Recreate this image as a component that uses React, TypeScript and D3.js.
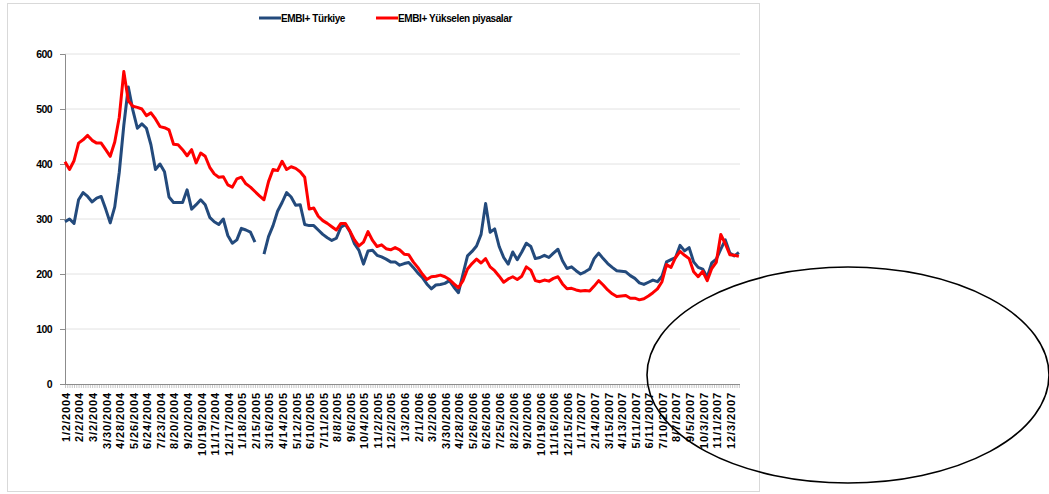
import React, { useEffect, useRef } from "react";
import * as d3 from "d3";

// x axis labels (one every ~21 business days)
const dateLabels = [
  "1/2/2004", "2/2/2004", "3/2/2004", "3/30/2004", "4/28/2004", "5/26/2004", "6/24/2004",
  "7/23/2004", "8/20/2004", "9/20/2004", "10/19/2004", "11/17/2004", "12/17/2004",
  "1/18/2005", "2/15/2005", "3/16/2005", "4/14/2005", "5/12/2005", "6/10/2005", "7/11/2005",
  "8/8/2005", "9/6/2005", "10/4/2005", "11/2/2005", "12/2/2005",
  "1/3/2006", "2/1/2006", "3/2/2006", "3/30/2006", "4/28/2006", "5/26/2006", "6/26/2006",
  "7/25/2006", "8/22/2006", "9/20/2006", "10/19/2006", "11/16/2006", "12/15/2006",
  "1/17/2007", "2/14/2007", "3/15/2007", "4/13/2007", "5/11/2007", "6/11/2007", "7/10/2007",
  "8/7/2007", "9/5/2007", "10/3/2007", "11/1/2007", "12/3/2007",
];

// spreads, three readings per label interval
const turkiye: (number | null)[] = [
  295, 300, 292, 335, 348, 341, 331, 338, 341, 318, 293, 322, 385, 470, 540, 498, 465, 473, 465, 435,
  390, 400, 386, 340, 330, 330, 330, 353, 318, 326, 335, 326, 303, 295, 290, 300, 270, 256, 262, 283,
  280, 276, 258, null, 236, 268, 288, 314, 330, 348, 340, 325, 326, 290, 288, 288, 280, 272, 266, 261,
  265, 285, 290, 277, 255, 243, 218, 242, 243, 234, 231, 227, 222, 222, 216, 219, 221, 212, 202, 194,
  182, 173, 180, 181, 183, 188, 176, 166, 200, 233, 241, 251, 272, 328, 276, 282, 250, 230, 218, 240,
  226, 240, 256, 250, 228, 230, 234, 230, 238, 245, 224, 210, 213, 206, 200, 204, 209, 228, 238, 228,
  219, 212, 206, 205, 204, 197, 192, 184, 181, 185, 189, 186, 196, 222, 226, 230, 252, 242, 248, 222,
  212, 209, 194, 220, 227, 245, 262, 238, 233, 239,
];

const yukselen: (number | null)[] = [
  404, 390, 406, 438, 444, 452, 443, 438, 438, 426, 414, 440, 485, 568, 515, 505, 503, 500, 488, 493,
  482, 468, 466, 462, 436, 435, 426, 415, 426, 402, 420, 414, 394, 382, 376, 377, 362, 358, 373, 376,
  364, 358, 350, 342, 335, 368, 390, 388, 405, 390, 395, 392, 386, 376, 318, 320, 305, 297, 292, 286,
  280, 292, 292, 278, 262, 251, 258, 277, 261, 250, 253, 246, 244, 248, 244, 236, 235, 222, 212, 200,
  190, 195, 196, 198, 195, 190, 182, 175, 188, 209, 219, 227, 220, 228, 213, 206, 196, 185, 191, 195,
  190, 196, 213, 207, 188, 186, 189, 187, 192, 195, 182, 173, 174, 171, 169, 170, 169, 178, 188, 180,
  171, 164, 159, 160, 161, 156, 156, 153, 155, 160, 166, 173, 186, 217, 212, 230, 241, 234, 228, 204,
  195, 205, 188, 210, 221, 272, 255, 235, 234, 232,
];

const yTicks = [0, 100, 200, 300, 400, 500, 600];
const seriesNames = ["EMBI+ Türkiye", "EMBI+ Yükselen piyasalar"];
const seriesColors = ["#234A7C", "#FF0000"];

const App = () => {
  const ref = useRef<SVGSVGElement | null>(null);

  useEffect(() => {
    const svg = d3.select(ref.current);
    svg.selectAll("*").remove();

    const font = "'Liberation Sans', Arial, sans-serif";
    const left = 65;
    const right = 740;
    const top = 54;
    const bottom = 384;

    // outer chart frame
    svg
      .append("rect")
      .attr("x", 7.5)
      .attr("y", 3.5)
      .attr("width", 752)
      .attr("height", 488)
      .attr("fill", "#fff")
      .attr("stroke", "#d9d9d9");

    const x = d3.scaleLinear().domain([0, 49.75]).range([left, right]);
    const y = d3.scaleLinear().domain([0, 600]).range([bottom, top]);

    // gridlines
    svg
      .append("g")
      .selectAll("line")
      .data(yTicks.filter((t) => t > 0))
      .enter()
      .append("line")
      .attr("x1", left)
      .attr("x2", right)
      .attr("y1", (d) => y(d))
      .attr("y2", (d) => y(d))
      .attr("stroke", "#e2e2e2")
      .attr("stroke-width", 1);

    // y axis
    const yAxis = svg
      .append("g")
      .attr("transform", `translate(${left},0)`)
      .call(d3.axisLeft(y).tickValues(yTicks).tickSize(5).tickPadding(8));
    yAxis.select(".domain").attr("stroke", "#8c8c8c");
    yAxis.selectAll(".tick line").attr("stroke", "#8c8c8c");
    yAxis
      .selectAll(".tick text")
      .attr("font-family", font)
      .attr("font-size", 10.5)
      .attr("font-weight", "bold")
      .attr("letter-spacing", "-0.6px")
      .attr("fill", "#000");

    // dense minor ticks under x axis
    svg
      .append("g")
      .selectAll("line")
      .data(d3.range(0, 49.75 * 6))
      .enter()
      .append("line")
      .attr("x1", (d) => x(d / 6) + 0.5)
      .attr("x2", (d) => x(d / 6) + 0.5)
      .attr("y1", bottom)
      .attr("y2", bottom + 4)
      .attr("stroke", "#c8c8c8")
      .attr("stroke-width", 1);

    svg
      .append("line")
      .attr("x1", left)
      .attr("x2", right)
      .attr("y1", bottom + 0.5)
      .attr("y2", bottom + 0.5)
      .attr("stroke", "#8c8c8c");

    // x labels, rotated
    svg
      .append("g")
      .selectAll("text")
      .data(dateLabels)
      .enter()
      .append("text")
      .attr("transform", (d, i) => `translate(${x(i) + 1},${bottom + 8}) rotate(-90)`)
      .attr("dy", "0.35em")
      .attr("text-anchor", "end")
      .attr("font-family", font)
      .attr("font-size", 11)
      .attr("font-weight", "bold")
      .attr("letter-spacing", "0.9px")
      .text((d) => d);

    // lines
    const line = d3
      .line<number | null>()
      .defined((d) => d != null)
      .x((d, i) => x(i / 3))
      .y((d) => y(d as number));

    [turkiye, yukselen].forEach((s, i) => {
      svg
        .append("path")
        .datum(s)
        .attr("fill", "none")
        .attr("stroke", seriesColors[i])
        .attr("stroke-width", 3)
        .attr("stroke-linejoin", "round")
        .attr("d", line);
    });

    // legend
    const legendX = [259, 376];
    seriesNames.forEach((name, i) => {
      const g = svg.append("g").attr("transform", `translate(${legendX[i]},18)`);
      g.append("line")
        .attr("x1", 0)
        .attr("x2", 22)
        .attr("y1", 0)
        .attr("y2", 0)
        .attr("stroke", seriesColors[i])
        .attr("stroke-width", 3);
      g.append("text")
        .attr("x", 22)
        .attr("y", 4)
        .attr("font-family", font)
        .attr("font-size", 10)
        .attr("font-weight", "bold")
        .attr("letter-spacing", "-0.4px")
        .text(name);
    });

    // hand-drawn ellipse annotation
    svg
      .append("ellipse")
      .attr("cx", 848)
      .attr("cy", 375)
      .attr("rx", 201)
      .attr("ry", 108)
      .attr("fill", "none")
      .attr("stroke", "#000")
      .attr("stroke-width", 1.6);
  }, []);

  return (
    <svg
      ref={ref}
      width={1049}
      height={494}
      style={{ position: "absolute", left: 0, top: 0, background: "#fff" }}
    />
  );
};

export default App;
